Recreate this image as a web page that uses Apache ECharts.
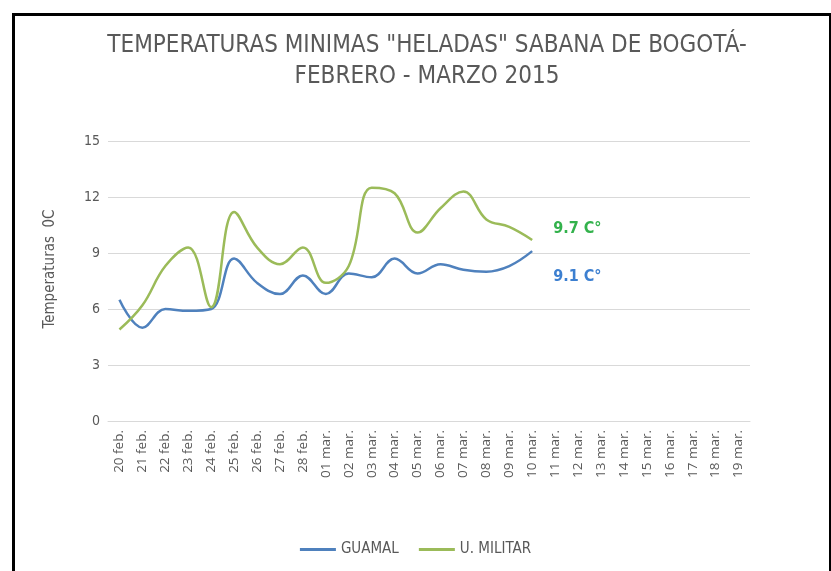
<!DOCTYPE html>
<html>
<head>
<meta charset="utf-8">
<script src="https://cdn.jsdelivr.net/npm/echarts@6/dist/echarts.min.js"></script>
<style>
html,body{margin:0;padding:0;background:#fff;}
#c{width:831px;height:571px;}
</style>
</head>
<body>
<div id="c"></div>
<script>
const categories = ["20 feb.","21 feb.","22 feb.","23 feb.","24 feb.","25 feb.","26 feb.","27 feb.","28 feb.","01 mar.","02 mar.","03 mar.","04 mar.","05 mar.","06 mar.","07 mar.","08 mar.","09 mar.","10 mar.","11 mar.","12 mar.","13 mar.","14 mar.","15 mar.","16 mar.","17 mar.","18 mar.","19 mar."];
const guamal = [6.5,5.0,6.0,5.9,6.0,8.7,7.4,6.8,7.8,6.8,7.9,7.7,8.7,7.9,8.4,8.1,8.0,8.3,9.1];
const uMilitar = [4.9,6.2,8.3,9.3,6.1,11.2,9.3,8.4,9.3,7.4,8.3,12.5,12.2,10.1,11.4,12.3,10.8,10.4,9.7];
const yTicks = [0,3,6,9,12,15];
const titleLines = ['TEMPERATURAS MINIMAS "HELADAS" SABANA DE BOGOTÁ-', 'FEBRERO - MARZO 2015'];
const endLabels = ['9.1 C°', '9.7 C°'];

const narrow = "'Liberation Sans Narrow', 'DejaVu Sans Condensed', sans-serif";
const chart = echarts.init(document.getElementById('c'));
chart.setOption({
  animation: false,
  backgroundColor: '#fff',
  graphic: [{
    type: 'rect', left: 11, top: 12,
    shape: {width: 817, height: 620},
    style: {fill: 'none', stroke: '#000', lineWidth: 3},
    silent: true
  }],
  title: {
    text: titleLines.join('\n'),
    left: 422, textAlign: 'center', top: 25,
    textStyle: {fontFamily: narrow, fontSize: 24, fontWeight: 'normal', color: '#595959', lineHeight: 31}
  },
  legend: {
    bottom: 9, left: 'center',
    itemWidth: 36, itemHeight: 3, itemGap: 20,
    icon: 'rect',
    textStyle: {fontFamily: narrow, fontSize: 15, color: '#595959'},
    data: ['GUAMAL', 'U. MILITAR']
  },
  grid: {left: 108, right: 81, top: 141, bottom: 150, containLabel: false},
  xAxis: {
    type: 'category', data: categories, boundaryGap: true,
    axisLine: {lineStyle: {color: '#d9d9d9'}},
    axisTick: {show: false},
    axisLabel: {rotate: 90, interval: 0, color: '#595959', fontFamily: "'Open Sans', sans-serif", fontSize: 13.5, margin: 9}
  },
  yAxis: {
    type: 'value', min: yTicks[0], max: yTicks[yTicks.length-1], interval: 3,
    name: 'Temperaturas  0C', nameLocation: 'middle', nameGap: 50, nameRotate: 90,
    nameTextStyle: {fontFamily: narrow, fontSize: 15, color: '#595959', padding: [0,0,0,24]},
    axisLine: {show: false}, axisTick: {show: false},
    axisLabel: {color: '#595959', fontFamily: narrow, fontSize: 14, margin: 8},
    splitLine: {lineStyle: {color: '#d9d9d9', width: 1}}
  },
  series: [{
    name: 'GUAMAL', type: 'line', data: guamal, smooth: 0.4, showSymbol: false,
    lineStyle: {color: '#4f81bd', width: 2.5}, itemStyle: {color: '#4f81bd'},
    endLabel: {show: true, formatter: endLabels[0], offset: [13, 26], color: '#3c7fd0', fontSize: 16, fontWeight: 'bold', fontFamily: narrow}
  }, {
    name: 'U. MILITAR', type: 'line', data: uMilitar, smooth: 0.4, showSymbol: false,
    lineStyle: {color: '#9bbb59', width: 2.5}, itemStyle: {color: '#9bbb59'},
    endLabel: {show: true, formatter: endLabels[1], offset: [13, -11], color: '#33b24c', fontSize: 16, fontWeight: 'bold', fontFamily: narrow}
  }]
});
</script>
</body>
</html>
